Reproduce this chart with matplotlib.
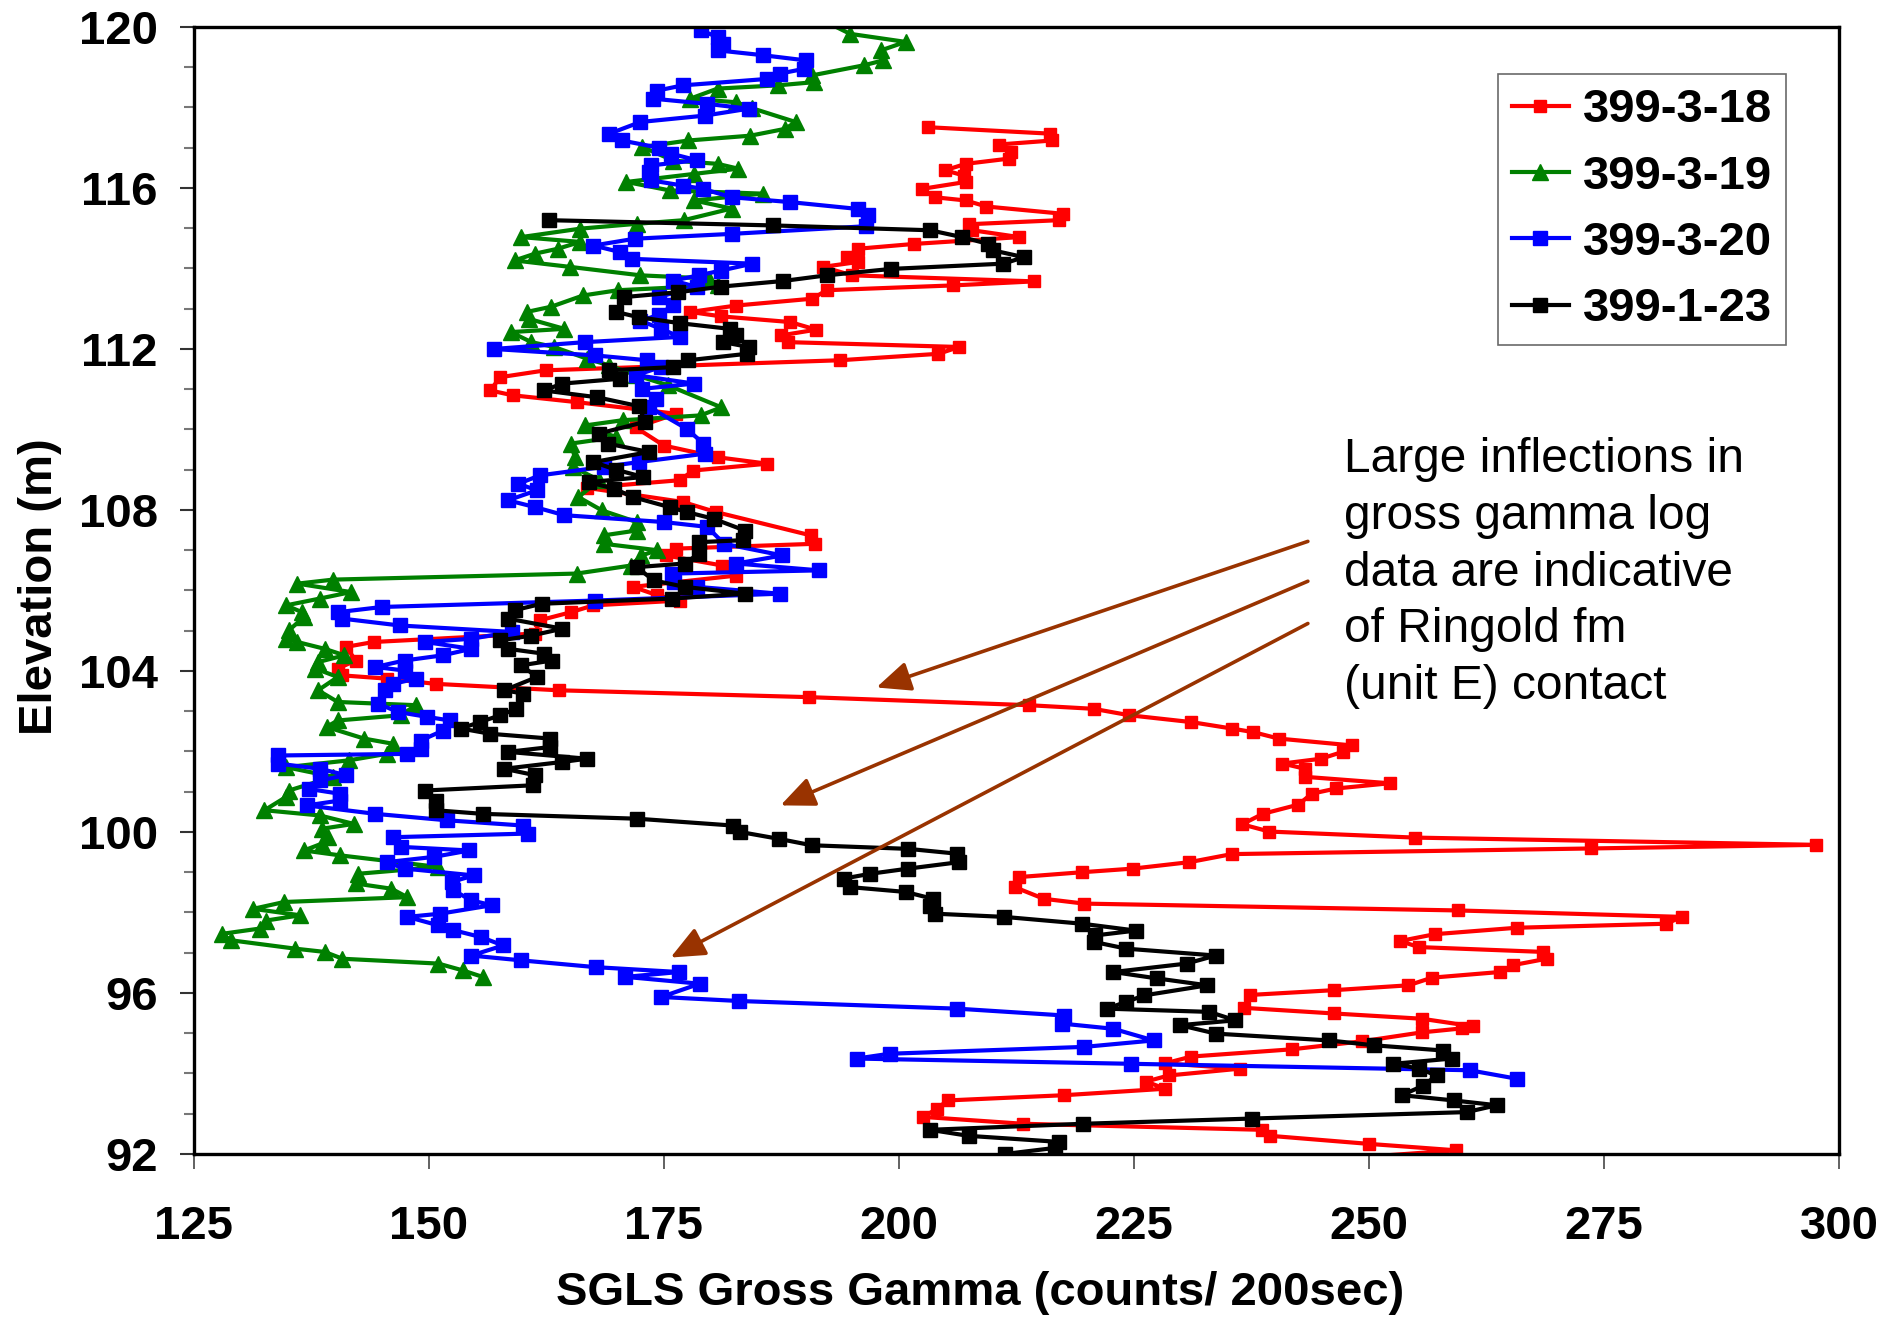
import matplotlib
matplotlib.use("Agg")
from matplotlib import pyplot as plt

plt.rcParams['font.family'] = ['Liberation Sans', 'DejaVu Sans']

# 399-3-18 (red)
red_gamma = [203.1, 216.1, 216.3, 210.6, 211.9, 211.7, 207.1, 204.9, 206.9, 207.1,
             202.5, 203.8, 207.1, 209.3, 217.4, 217.0, 207.5, 207.8, 212.8, 201.6,
             195.6, 194.5, 195.6, 191.9, 195.0, 214.4, 205.8, 192.3, 190.8, 182.7,
             177.8, 181.1, 188.4, 191.2, 187.5, 188.2, 206.4, 204.2, 193.7, 162.4,
             157.6, 156.5, 158.9, 165.7, 176.3, 172.0, 175.0, 180.7, 186.0, 178.1,
             176.7, 166.8, 177.0, 180.5, 190.6, 191.1, 176.3, 175.2, 181.2, 182.7,
             171.7, 174.3, 176.7, 167.5, 165.1, 161.8, 161.3, 144.1, 141.2, 142.2,
             140.3, 140.8, 145.5, 150.7, 163.8, 190.4, 213.8, 220.7, 224.5, 231.1,
             235.4, 237.7, 240.4, 248.2, 247.2, 244.9, 240.8, 243.2, 243.2, 252.2,
             246.5, 243.9, 242.5, 238.7, 236.5, 239.4, 254.9, 297.6, 273.6, 235.4,
             230.9, 224.9, 219.5, 212.8, 212.3, 215.4, 219.7, 259.5, 283.3, 281.6,
             265.7, 257.0, 253.3, 255.3, 268.5, 268.9, 265.3, 263.9, 256.7, 254.2,
             246.3, 237.3, 236.7, 246.3, 255.6, 261.1, 259.9, 255.6, 249.3, 241.8,
             231.1, 228.3, 236.3, 228.7, 226.3, 228.3, 217.6, 205.2, 204.0, 202.6,
             213.2, 238.6, 239.5, 250.0, 259.3, 224.0]
red_elev = [117.51, 117.35, 117.18, 117.08, 116.89, 116.73, 116.60, 116.44, 116.31, 116.15,
            115.98, 115.77, 115.69, 115.54, 115.36, 115.20, 115.10, 114.95, 114.78, 114.61,
            114.49, 114.28, 114.16, 114.04, 113.83, 113.68, 113.58, 113.46, 113.25, 113.08,
            112.92, 112.81, 112.67, 112.48, 112.34, 112.17, 112.05, 111.88, 111.72, 111.47,
            111.30, 110.97, 110.85, 110.68, 110.39, 110.05, 109.60, 109.31, 109.15, 108.98,
            108.74, 108.55, 108.20, 107.95, 107.37, 107.16, 107.04, 106.87, 106.62, 106.37,
            106.09, 105.88, 105.75, 105.63, 105.46, 105.26, 104.93, 104.72, 104.60, 104.26,
            104.06, 103.89, 103.81, 103.68, 103.52, 103.35, 103.15, 103.06, 102.90, 102.73,
            102.57, 102.48, 102.32, 102.15, 101.99, 101.82, 101.70, 101.57, 101.37, 101.21,
            101.08, 100.95, 100.68, 100.45, 100.19, 100.01, 99.86, 99.68, 99.59, 99.45,
            99.25, 99.09, 99.00, 98.88, 98.63, 98.34, 98.22, 98.05, 97.89, 97.72,
            97.62, 97.46, 97.29, 97.14, 97.02, 96.85, 96.69, 96.52, 96.38, 96.19,
            96.07, 95.95, 95.63, 95.49, 95.36, 95.17, 95.12, 95.02, 94.80, 94.60,
            94.42, 94.25, 94.12, 93.95, 93.80, 93.62, 93.46, 93.33, 93.12, 92.92,
            92.75, 92.60, 92.45, 92.25, 92.09, 91.50]

# 399-3-19 (green)
green_gamma = [189.0, 194.8, 200.7, 198.1, 198.3, 196.3, 190.8, 191.0, 187.1, 180.7,
               177.8, 182.7, 184.4, 189.0, 187.9, 184.2, 177.6, 172.7, 176.0, 180.7,
               182.9, 178.2, 171.0, 175.6, 185.5, 178.2, 182.2, 177.1, 172.1, 166.1,
               159.8, 166.1, 163.7, 161.3, 159.1, 165.0, 172.5, 179.8, 180.7, 170.1,
               166.4, 163.0, 160.4, 160.6, 164.4, 158.7, 160.9, 163.3, 166.8, 169.2,
               172.0, 175.4, 181.1, 178.9, 170.6, 166.6, 169.9, 165.1, 165.5, 165.3,
               168.1, 165.9, 168.4, 172.1, 172.1, 168.6, 168.6, 174.3, 172.6, 171.5,
               165.7, 139.8, 136.0, 141.7, 138.4, 134.8, 136.5, 136.7, 135.1, 134.8,
               136.0, 138.9, 141.0, 138.2, 137.9, 140.3, 138.2, 140.3, 148.6, 147.0,
               140.3, 139.1, 143.1, 146.2, 145.5, 141.5, 134.8, 139.8, 135.1, 134.8,
               132.5, 138.4, 142.0, 138.6, 139.3, 138.6, 136.7, 140.5, 151.0, 142.4,
               142.2, 146.0, 147.7, 134.6, 131.3, 136.3, 132.7, 132.0, 128.0, 128.9,
               135.8, 138.9, 140.8, 151.0, 153.6, 155.7]
green_elev = [120.50, 119.83, 119.63, 119.42, 119.17, 119.05, 118.80, 118.63, 118.55, 118.47,
              118.22, 118.13, 117.98, 117.64, 117.47, 117.30, 117.18, 117.02, 116.68, 116.60,
              116.48, 116.35, 116.15, 115.94, 115.86, 115.69, 115.49, 115.20, 115.11, 114.99,
              114.78, 114.66, 114.49, 114.37, 114.20, 114.04, 113.83, 113.75, 113.58, 113.46,
              113.33, 113.05, 112.92, 112.75, 112.50, 112.42, 112.17, 112.05, 111.76, 111.59,
              111.35, 111.10, 110.55, 110.35, 110.23, 110.10, 109.81, 109.65, 109.32, 109.07,
              108.74, 108.32, 107.99, 107.70, 107.49, 107.37, 107.16, 107.00, 106.87, 106.62,
              106.42, 106.27, 106.17, 105.96, 105.80, 105.63, 105.46, 105.34, 105.01, 104.80,
              104.72, 104.55, 104.39, 104.22, 104.06, 103.85, 103.52, 103.23, 103.15, 102.90,
              102.77, 102.61, 102.32, 102.19, 101.94, 101.78, 101.61, 101.37, 101.03, 100.87,
              100.54, 100.41, 100.20, 100.08, 99.87, 99.71, 99.54, 99.42, 99.13, 98.96,
              98.72, 98.59, 98.38, 98.26, 98.09, 97.93, 97.80, 97.60, 97.47, 97.31,
              97.10, 97.02, 96.85, 96.73, 96.56, 96.40]

# 399-3-20 (blue)
blue_gamma = [178.9, 180.7, 181.3, 180.7, 185.5, 190.1, 189.9, 187.3, 186.0, 177.0,
              174.3, 173.8, 179.6, 184.0, 179.4, 172.5, 169.2, 170.5, 174.5, 175.8,
              178.5, 173.6, 173.4, 173.6, 177.0, 179.1, 182.2, 188.4, 195.6, 196.7,
              196.5, 182.2, 171.9, 167.5, 170.3, 171.6, 184.4, 181.1, 178.7, 176.0,
              178.5, 174.5, 176.0, 174.5, 172.5, 174.7, 176.7, 166.6, 156.9, 167.7,
              173.2, 174.7, 172.0, 178.2, 172.7, 174.1, 173.4, 177.4, 179.2, 179.4,
              172.3, 168.6, 161.8, 159.5, 161.5, 158.4, 161.3, 164.4, 175.0, 179.6,
              181.4, 187.6, 182.7, 191.5, 175.9, 176.1, 178.5, 187.3, 167.7, 145.0,
              140.3, 140.8, 146.9, 158.8, 154.5, 149.6, 154.5, 151.5, 147.4, 144.3,
              147.4, 148.6, 146.2, 145.3, 144.6, 146.7, 149.8, 152.2, 151.5, 149.1,
              149.1, 147.7, 133.9, 133.9, 138.4, 141.2, 138.4, 137.2, 140.5, 140.5,
              137.0, 144.3, 151.9, 160.0, 160.5, 146.2, 147.0, 154.3, 150.5, 145.5,
              147.4, 154.8, 152.4, 152.6, 154.5, 156.7, 151.2, 147.7, 151.0, 152.6,
              155.5, 157.9, 154.5, 159.8, 167.8, 176.6, 170.9, 178.8, 174.7, 183.0,
              206.2, 217.6, 217.3, 222.8, 227.1, 219.7, 199.0, 195.5, 224.7, 260.7,
              265.7]
blue_elev = [119.92, 119.75, 119.58, 119.42, 119.30, 119.17, 118.96, 118.84, 118.71, 118.55,
             118.42, 118.22, 118.09, 117.97, 117.80, 117.64, 117.35, 117.18, 117.00, 116.85,
             116.69, 116.56, 116.40, 116.19, 116.06, 115.98, 115.77, 115.65, 115.48, 115.32,
             115.05, 114.86, 114.74, 114.57, 114.41, 114.24, 114.12, 113.95, 113.83, 113.70,
             113.54, 113.30, 113.10, 112.85, 112.70, 112.50, 112.30, 112.17, 112.00, 111.84,
             111.72, 111.55, 111.35, 111.14, 111.01, 110.75, 110.56, 110.02, 109.65, 109.40,
             109.19, 109.07, 108.86, 108.65, 108.49, 108.24, 108.07, 107.87, 107.70, 107.58,
             107.16, 106.87, 106.67, 106.50, 106.42, 106.21, 106.09, 105.92, 105.75, 105.59,
             105.46, 105.30, 105.13, 104.97, 104.80, 104.72, 104.55, 104.39, 104.26, 104.10,
             104.01, 103.81, 103.68, 103.52, 103.19, 102.98, 102.86, 102.77, 102.52, 102.27,
             102.07, 101.94, 101.90, 101.70, 101.57, 101.41, 101.28, 101.07, 100.95, 100.78,
             100.66, 100.45, 100.29, 100.16, 99.96, 99.87, 99.63, 99.54, 99.38, 99.25,
             99.09, 98.92, 98.76, 98.55, 98.30, 98.18, 97.97, 97.89, 97.68, 97.56,
             97.39, 97.18, 96.93, 96.81, 96.64, 96.52, 96.40, 96.23, 95.90, 95.80,
             95.61, 95.44, 95.24, 95.11, 94.82, 94.66, 94.49, 94.37, 94.24, 94.08,
             93.87]

# 399-1-23 (black)
black_gamma = [162.8, 186.6, 203.3, 206.7, 209.5, 210.0, 213.3, 211.1, 199.2, 192.3,
               187.7, 181.1, 176.5, 170.8, 169.9, 172.3, 176.7, 182.0, 182.7, 181.3,
               184.0, 183.8, 177.6, 176.0, 169.2, 170.3, 164.2, 162.2, 167.9, 172.3,
               173.0, 168.1, 169.0, 173.4, 167.5, 169.9, 172.8, 167.0, 169.7, 171.7,
               175.6, 177.4, 180.3, 183.6, 183.4, 178.7, 178.7, 177.2, 172.1, 173.9,
               177.2, 183.6, 175.9, 162.0, 159.1, 158.4, 164.2, 160.9, 157.6, 158.4,
               162.2, 163.1, 159.8, 161.5, 158.0, 160.0, 159.3, 157.6, 155.4, 153.4,
               156.5, 162.9, 162.9, 158.4, 166.8, 164.2, 158.0, 161.3, 161.1, 149.6,
               150.7, 150.7, 155.7, 172.1, 182.3, 183.1, 187.2, 190.7, 201.0, 206.2,
               206.4, 201.0, 196.9, 194.1, 194.8, 200.7, 203.6, 203.3, 203.8, 211.2,
               219.5, 225.2, 220.9, 220.7, 224.2, 233.7, 230.6, 222.8, 227.5, 232.8,
               226.1, 224.2, 222.1, 233.0, 235.8, 229.9, 233.7, 245.8, 250.5, 257.9,
               258.8, 252.6, 255.3, 257.2, 255.8, 253.5, 259.0, 263.6, 260.4, 237.6,
               219.6, 203.3, 207.4, 217.0, 216.6, 211.3, 205.0]
black_elev = [115.20, 115.07, 114.95, 114.78, 114.61, 114.45, 114.28, 114.12, 113.99, 113.83,
              113.69, 113.55, 113.41, 113.29, 112.92, 112.79, 112.64, 112.50, 112.34, 112.17,
              112.05, 111.88, 111.72, 111.55, 111.47, 111.26, 111.14, 110.97, 110.80, 110.58,
              110.19, 109.90, 109.65, 109.44, 109.19, 109.00, 108.82, 108.69, 108.53, 108.32,
              108.07, 107.95, 107.78, 107.49, 107.25, 107.20, 106.91, 106.67, 106.58, 106.25,
              106.09, 105.92, 105.80, 105.67, 105.51, 105.30, 105.05, 104.88, 104.76, 104.55,
              104.43, 104.26, 104.14, 103.85, 103.52, 103.44, 103.06, 102.90, 102.73, 102.57,
              102.44, 102.32, 102.11, 101.99, 101.82, 101.74, 101.57, 101.41, 101.16, 101.03,
              100.78, 100.54, 100.45, 100.33, 100.16, 100.00, 99.83, 99.67, 99.58, 99.46,
              99.25, 99.09, 98.96, 98.84, 98.63, 98.51, 98.34, 98.17, 97.97, 97.89,
              97.72, 97.55, 97.43, 97.27, 97.10, 96.93, 96.73, 96.52, 96.36, 96.19,
              95.94, 95.78, 95.61, 95.53, 95.32, 95.20, 94.99, 94.82, 94.70, 94.57,
              94.37, 94.24, 94.12, 93.95, 93.70, 93.46, 93.33, 93.21, 93.04, 92.88,
              92.75, 92.60, 92.45, 92.30, 92.15, 92.00, 91.70]

x_ticks = [125, 150, 175, 200, 225, 250, 275, 300]
y_ticks = [92, 96, 100, 104, 108, 112, 116, 120]

note = ("Large inflections in\ngross gamma log\ndata are indicative\n"
        "of Ringold fm\n(unit E) contact")
arrow_tail = (243.5, [107.22, 106.23, 105.18])
arrow_tips = [(197.6, 103.59), (187.4, 100.66), (175.7, 96.88)]

fig = plt.figure(figsize=(18.98, 13.17), dpi=100)
ax = fig.add_axes([0.1022, 0.1238, 0.8667, 0.8557])

ax.plot(red_gamma, red_elev, color='#ff0000', marker='s', ms=8, lw=3.0, label='399-3-18')
ax.plot(green_gamma, green_elev, color='#008000', marker='^', ms=11, lw=3.0, label='399-3-19')
ax.plot(blue_gamma, blue_elev, color='#0000ff', marker='s', ms=10, lw=3.0, label='399-3-20')
ax.plot(black_gamma, black_elev, color='#000000', marker='s', ms=10, lw=3.0, label='399-1-23')

ax.set_xlim(125, 300)
ax.set_ylim(92, 120)
ax.set_xticks(x_ticks)
ax.set_yticks(y_ticks)
ax.set_yticks(range(92, 121), minor=True)
ax.set_xticklabels([str(t) for t in x_ticks], fontsize=34, fontweight='bold')
ax.set_yticklabels([str(t) for t in y_ticks], fontsize=34, fontweight='bold')
ax.tick_params(axis='x', which='major', length=11, width=1.3, color='#555555', pad=26)
ax.tick_params(axis='y', which='major', length=10, width=1.5, color='#333333', pad=16)
ax.tick_params(axis='y', which='minor', length=7, width=1.5, color='#777777')
for s in ax.spines.values():
    s.set_linewidth(2.4)

ax.set_xlabel('SGLS Gross Gamma (counts/ 200sec)', fontsize=34, fontweight='bold')
ax.set_ylabel('Elevation (m)', fontsize=34, fontweight='bold')
ax.xaxis.set_label_coords(0.478, -0.104)
ax.yaxis.set_label_coords(-0.080, 0.503)

leg = ax.legend(loc='upper right', bbox_to_anchor=(0.968, 0.958), frameon=True,
                fancybox=False, prop={'weight': 'bold', 'size': 34},
                handlelength=1.2, labelspacing=0.47, borderpad=0.3,
                handletextpad=0.3, borderaxespad=0)
leg.get_frame().set_edgecolor('#444444')
leg.get_frame().set_linewidth(1.2)

ax.text(247.3, 109.82, note, fontsize=34.5, va='top', ha='left', linespacing=1.34)
for y0, tip in zip(arrow_tail[1], arrow_tips):
    ax.annotate('', xy=tip, xytext=(arrow_tail[0], y0),
                arrowprops=dict(arrowstyle='-|>,head_length=0.8,head_width=0.35',
                                color='#993300', lw=2.6, mutation_scale=26,
                                shrinkA=0, shrinkB=0))

fig.savefig('out.png', dpi=100)
